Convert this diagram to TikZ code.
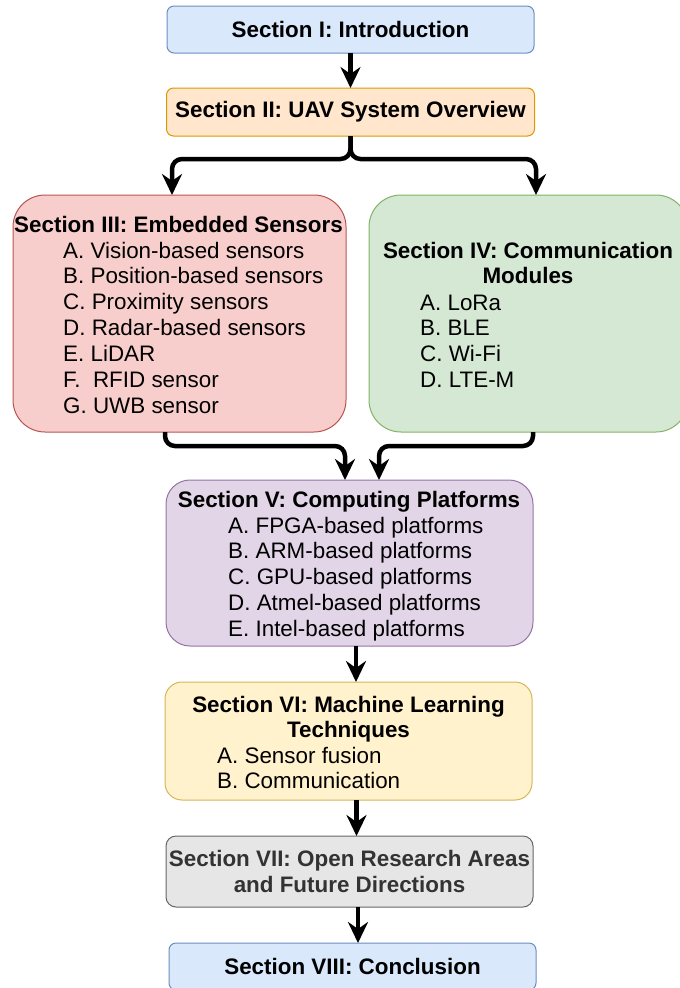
\documentclass[tikz,border=0pt]{standalone}
\usepackage{fontspec}
\setmainfont{Liberation Sans}
\usepackage{xcolor}
\usetikzlibrary{arrows.meta,positioning}

\definecolor{blueFill}{HTML}{DAE8FC}
\definecolor{blueLine}{HTML}{6C8EBF}
\definecolor{orangeFill}{HTML}{FFE6CC}
\definecolor{orangeLine}{HTML}{D79B00}
\definecolor{redFill}{HTML}{F8CECC}
\definecolor{redLine}{HTML}{B85450}
\definecolor{greenFill}{HTML}{D5E8D4}
\definecolor{greenLine}{HTML}{82B366}
\definecolor{purpleFill}{HTML}{E1D5E7}
\definecolor{purpleLine}{HTML}{9673A6}
\definecolor{yellowFill}{HTML}{FFF2CC}
\definecolor{yellowLine}{HTML}{D6B656}
\definecolor{greyFill}{HTML}{E6E6E6}
\definecolor{greyLine}{HTML}{666666}
\definecolor{greyText}{HTML}{333333}

\newcommand{\fsz}{\fontsize{22.4}{25.9}\selectfont}

\begin{document}
\begin{tikzpicture}[
    x=1pt, y=-1pt,
    box/.style={draw, line width=1pt, inner sep=0pt, outer sep=0pt, font=\fsz\bfseries, align=center},
    title/.style={inner sep=0pt, font=\fsz\bfseries, anchor=base},
    items/.style={inner sep=0pt, font=\fsz, anchor=base west},
    arrow/.style={-{Stealth[length=21pt, width=20pt, inset=7pt]}, line width=4.5pt, rounded corners=10pt}
]
\useasboundingbox (0,0) rectangle (680,988);

\node[box, fill=blueFill, draw=blueLine, rounded corners=7pt, minimum width=367pt, minimum height=47pt] (intro) at (350.5,29.5) {Section I: Introduction};
\node[box, fill=orangeFill, draw=orangeLine, rounded corners=7pt, minimum width=368pt, minimum height=48pt, below=35pt of intro] (uav) {Section II: UAV System Overview};

\node[box, fill=redFill, draw=redLine, rounded corners=32pt, minimum width=333pt, minimum height=237pt, anchor=north] (sens) at (179.5,195) {};
\node[box, fill=greenFill, draw=greenLine, rounded corners=32pt, minimum width=319pt, minimum height=237pt, anchor=north] (comm) at (528.5,195) {};
\node[box, fill=purpleFill, draw=purpleLine, rounded corners=24pt, minimum width=367pt, minimum height=166pt, anchor=north] (comp) at (349.5,480) {};
\node[box, fill=yellowFill, draw=yellowLine, rounded corners=17pt, minimum width=367pt, minimum height=118pt, below=36pt of comp, xshift=-1pt] (ml) {};
\node[box, fill=greyFill, draw=greyLine, text=greyText, rounded corners=10pt, minimum width=367pt, minimum height=71pt, below=36pt of ml, xshift=1pt] (open) {Section VII: Open Research Areas\\and Future Directions};
\node[box, fill=blueFill, draw=blueLine, rounded corners=7pt, minimum width=367pt, minimum height=47pt, below=36pt of open, xshift=3pt] (concl) {Section VIII: Conclusion};

% box contents
\node[title] (sensT) at (178.5,232) {Section III: Embedded Sensors};
\node[items] (sensL) at (63,258) {\begin{tabular}[t]{@{}l@{}}
  A. Vision-based sensors\\ B. Position-based sensors\\ C. Proximity sensors\\
  D. Radar-based sensors\\ E. LiDAR\\ F.\ \ RFID sensor\\ G. UWB sensor
\end{tabular}};
\node[title] (commT) at (528,258) {\begin{tabular}[t]{@{}c@{}}Section IV: Communication\\ Modules\end{tabular}};
\node[items] (commL) at (420,310) {\begin{tabular}[t]{@{}l@{}}
  A. LoRa\\ B. BLE\\ C. Wi-Fi\\ D. LTE-M
\end{tabular}};
\node[title] (compT) at (349,507) {Section V: Computing Platforms};
\node[items] (compL) at (228,533) {\begin{tabular}[t]{@{}l@{}}
  A. FPGA-based platforms\\ B. ARM-based platforms\\ C. GPU-based platforms\\
  D. Atmel-based platforms\\ E. Intel-based platforms
\end{tabular}};
\node[title] (mlT) at (348.5,712) {\begin{tabular}[t]{@{}c@{}}Section VI: Machine Learning\\ Techniques\end{tabular}};
\node[items] (mlL) at (217,763) {\begin{tabular}[t]{@{}l@{}}
  A. Sensor fusion\\ B. Communication
\end{tabular}};

% connectors
\draw[arrow] (intro) -- (uav);
\draw[arrow] (uav.south) -- ++(0,23) -| ([xshift=-7.5pt]sens.north);
\draw[arrow] (uav.south) -- ++(0,23) -| ([xshift=7.5pt]comm.north);
\draw[arrow] ([xshift=-14.5pt]sens.south) -- ++(0,14) -| ([xshift=-4.5pt]comp.north);
\draw[arrow] ([xshift=4.5pt]comm.south) -- ++(0,14) -| ([xshift=29.5pt]comp.north);
\draw[arrow] ([xshift=6.5pt]comp.south) -- ([xshift=7.5pt]ml.north);
\draw[arrow] ([xshift=8pt]ml.south) -- ([xshift=7pt]open.north);
\draw[arrow] ([xshift=8.5pt]open.south) -- ([xshift=5.5pt]concl.north);
\end{tikzpicture}
\end{document}
